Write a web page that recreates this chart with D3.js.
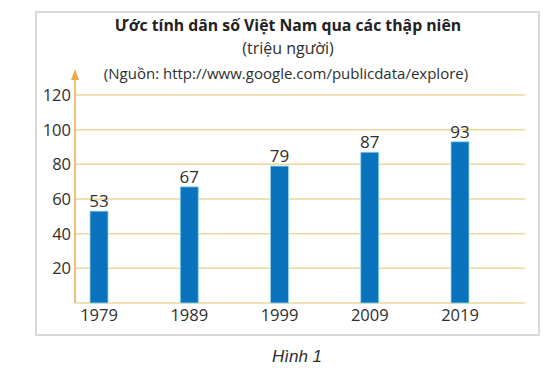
<!DOCTYPE html>
<html>
<head>
<meta charset="utf-8">
<script src="https://cdn.jsdelivr.net/npm/d3@7"></script>
<style>
  body { margin: 0; background: #fff; }
  text { font-family: "Open Sans", "Noto Sans", sans-serif; fill: #2e2e2e; }
</style>
</head>
<body>
<div id="chart"></div>
<script>
// Data
const years = ["1979", "1989", "1999", "2009", "2019"];
const population = [53, 67, 79, 87, 93];
const yTicks = [20, 40, 60, 80, 100, 120];
const titleText = "Ước tính dân số Việt Nam qua các thập niên";
const unitText = "(triệu người)";
const sourceText = "(Nguồn: http://www.google.com/publicdata/explore)";
const captionText = "Hình 1";

const width = 557, height = 376;

const svg = d3.select("#chart").append("svg")
    .attr("width", width)
    .attr("height", height);

// frame
svg.append("rect")
    .attr("x", 36).attr("y", 12)
    .attr("width", 503).attr("height", 323)
    .attr("fill", "#fff")
    .attr("stroke", "#d9d9d9")
    .attr("stroke-width", 2);

// Scales
const x = d3.scalePoint()
    .domain(years)
    .range([99, 460]);

const y = d3.scaleLinear()
    .domain([0, 120])
    .range([303, 95]);

const axisX = 75, gridEnd = 525, barW = 18;

// gridlines (incl. baseline)
svg.append("g")
  .selectAll("line")
  .data([0].concat(yTicks))
  .enter().append("line")
    .attr("x1", axisX).attr("x2", gridEnd)
    .attr("y1", d => y(d)).attr("y2", d => y(d))
    .attr("stroke", "#efd79c")
    .attr("stroke-width", 1.5);

// y axis with arrow
svg.append("line")
    .attr("x1", axisX).attr("x2", axisX)
    .attr("y1", y(0)).attr("y2", 76)
    .attr("stroke", "#f0a848")
    .attr("stroke-width", 1.5);
svg.append("path")
    .attr("d", `M${axisX},69 L${axisX - 4},80 L${axisX + 4},80 Z`)
    .attr("fill", "#f0a848");

// tick labels
svg.append("g")
  .selectAll("text")
  .data(yTicks)
  .enter().append("text")
    .attr("x", axisX - 4)
    .attr("y", d => y(d) + 6)
    .attr("text-anchor", "end")
    .style("font-size", "16.5px")
    .text(d => d);

// bars
svg.append("g")
  .selectAll("rect")
  .data(population)
  .enter().append("rect")
    .attr("x", (d, i) => x(years[i]) - barW / 2)
    .attr("y", d => y(d))
    .attr("width", barW)
    .attr("height", d => y(0) - y(d))
    .attr("fill", "#0b72bd")
    .attr("stroke", "#8fd6f2")
    .attr("stroke-width", 0.8);

// value labels
svg.append("g")
  .selectAll("text")
  .data(population)
  .enter().append("text")
    .attr("x", (d, i) => x(years[i]))
    .attr("y", d => y(d) - 4)
    .attr("text-anchor", "middle")
    .style("font-size", "17px")
    .text(d => d);

// x labels
svg.append("g")
  .selectAll("text")
  .data(years)
  .enter().append("text")
    .attr("x", d => x(d))
    .attr("y", 321)
    .attr("text-anchor", "middle")
    .style("font-size", "16.5px")
    .text(d => d);

// titles
svg.append("text")
    .attr("x", 288).attr("y", 31)
    .attr("text-anchor", "middle")
    .style("font-size", "15.8px")
    .style("font-weight", "bold")
    .style("fill", "#222")
    .text(titleText);

svg.append("text")
    .attr("x", 288).attr("y", 54)
    .attr("text-anchor", "middle")
    .style("font-size", "16px")
    .text(unitText);

svg.append("text")
    .attr("x", 286).attr("y", 79)
    .attr("text-anchor", "middle")
    .style("font-size", "15px")
    .text(sourceText);

svg.append("text")
    .attr("x", 297).attr("y", 362)
    .attr("text-anchor", "middle")
    .style("font-family", "'Liberation Sans', Arial, sans-serif")
    .style("font-style", "italic")
    .style("font-size", "17px")
    .text(captionText);
</script>
</body>
</html>
